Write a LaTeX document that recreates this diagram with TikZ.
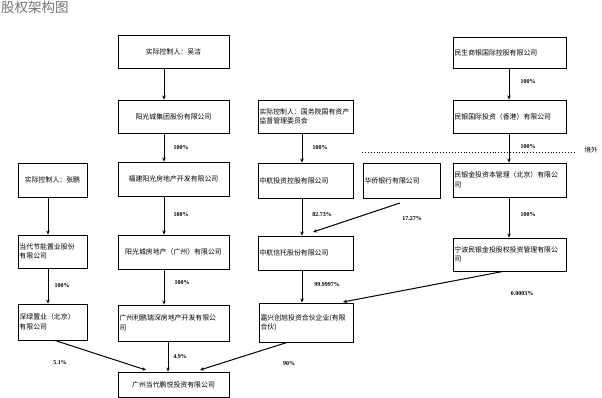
\documentclass[tikz,border=0pt]{standalone}
\usepackage{fontspec}
\newfontfamily\cjk{Noto Sans CJK SC}
\setmainfont{Liberation Serif}
\usetikzlibrary{arrows.meta}
\begin{document}
\begin{tikzpicture}[x=1pt,y=-1pt,
  box/.style={draw,line width=0.9pt,inner sep=1.5pt,font=\cjk\fontsize{6.9}{9.5}\selectfont},
  lbox/.style={box,align=left},
  cbox/.style={box,align=center},
  arr/.style={line width=1pt,-{Stealth[length=4pt,width=3.5pt]}},
  pct/.style={font=\bfseries\fontsize{6}{6.5}\selectfont,inner sep=0pt}]
\useasboundingbox (0,0) rectangle (602,398);
\node[anchor=west,text=black!55,font=\cjk\fontsize{13.5}{15}\selectfont,inner sep=0pt] (title) at (1,7) {股权架构图};
% column B
\node[cbox,text width=108pt,minimum height=33pt] (A) at (173.5,51.5) {实际控制人：吴洁};
\node[cbox,text width=108pt,minimum height=33pt] (B) at (173.5,116.5) {阳光城集团股份有限公司};
\node[cbox,text width=108pt,minimum height=34pt] (C) at (173.5,179) {福建阳光房地产开发有限公司};
\node[cbox,text width=108pt,minimum height=34pt] (D) at (173.5,252) {阳光城房地产（广州）有限公司};
\node[lbox,text width=108pt,minimum height=36pt] (E) at (173.5,323) {广州利鹏瑞深房地产开发有限公\\司};
\node[cbox,text width=108pt,minimum height=25pt] (G) at (173.5,384.5) {广州当代鹏悦投资有限公司};
% left column
\node[cbox,text width=66pt,minimum height=34pt] (L1) at (52.5,180) {实际控制人：张鹏};
\node[lbox,text width=66pt,minimum height=33pt] (L2) at (52.5,251.5) {当代节能置业股份\\有限公司};
\node[lbox,text width=66pt,minimum height=36pt] (L3) at (52.5,322) {深绿置业（北京）\\有限公司};
% column M
\node[lbox,text width=92pt,minimum height=33pt] (M1) at (305.5,116.5) {实际控制人：国务院国有资产\\监督管理委员会};
\node[lbox,text width=92pt,minimum height=35pt] (M2) at (305.5,180.5) {中航投资控股有限公司};
\node[lbox,text width=74pt,minimum height=35pt] (H) at (401.5,180.5) {华侨银行有限公司};
\node[lbox,text width=92pt,minimum height=34pt] (M3) at (305.5,253) {中航信托股份有限公司};
\node[lbox,text width=91pt,minimum height=39pt] (M4) at (306,322.5) {嘉兴创旭投资合伙企业(有限\\合伙)};
% column R
\node[lbox,text width=110pt,minimum height=31pt] (R1) at (509.5,52.5) {民生商银国际控股有限公司};
\node[lbox,text width=110pt,minimum height=33pt] (R2) at (509.5,116.5) {民银国际投资（香港）有限公司};
\node[lbox,text width=110pt,minimum height=34pt] (R3) at (509.5,180) {民银金投资本管理（北京）有限公\\司};
\node[lbox,text width=110pt,minimum height=33pt] (R4) at (509.5,254.5) {宁波民银金投股权投资管理有限公\\司};
% arrows
\draw[arr] (A.south -| 164,0) -- (B.north -| 164,0);
\draw[arr] (B.south -| 164,0) -- (C.north -| 164,0);
\draw[arr] (C.south -| 164,0) -- (D.north -| 164,0);
\draw[arr] (D.south -| 164,0) -- (E.north -| 164,0);
\draw[arr] (E.south -| 168,0) -- (G.north -| 168,0);
\draw[arr] (L1.south -| 48,0) -- (L2.north -| 48,0);
\draw[arr] (L2.south -| 48,0) -- (L3.north -| 48,0);
\draw[arr] (M1.south -| 302,0) -- (M2.north -| 302,0);
\draw[arr] (M2.south -| 302,0) -- (M3.north -| 302,0);
\draw[arr] (M3.south -| 302,0) -- (M4.north -| 302,0);
\draw[arr] (R1.south -| 509,0) -- (R2.north -| 509,0);
\draw[arr] (R2.south -| 509,0) -- (R3.north -| 509,0);
\draw[arr] (R3.south -| 509,0) -- (R4.north -| 509,0);
\coordinate (hs) at (400,203);
\coordinate (m3t) at (313,232);
\draw[arr] (hs) -- (m3t);
\draw[arr] (R4.south -| 503,0) -- (343,302);
\draw[arr] (L3.south -| 55,0) -- (146,370);
\draw[arr] (M4.south -| 287,0) -- (200,370);
% dotted border line
\coordinate (d1) at (362,152);
\coordinate (d2) at (575,152);
\draw[line width=0.9pt,dotted] (d1) -- (d2);
\node[font=\cjk\fontsize{6.5}{7}\selectfont,inner sep=0pt] (jw) at (591,150) {境外};
% labels
\node[pct] (p1) at (181,148) {100\%};
\node[pct] (p2) at (181,215) {100\%};
\node[pct] (p3) at (182,283) {100\%};
\node[pct] (p4) at (180,357) {4.9\%};
\node[pct] (p5) at (62,286) {100\%};
\node[pct] (p6) at (60,363) {5.1\%};
\node[pct] (p7) at (320,148) {100\%};
\node[pct] (p8) at (322,215) {82.73\%};
\node[pct] (p9) at (412,219) {17.27\%};
\node[pct] (p10) at (327,285) {99.9997\%};
\node[pct] (p11) at (289,364) {90\%};
\node[pct] (p12) at (528,82) {100\%};
\node[pct] (p13) at (528,147) {100\%};
\node[pct] (p14) at (528,215) {100\%};
\node[pct] (p15) at (522,294) {0.0003\%};
\end{tikzpicture}
\end{document}
